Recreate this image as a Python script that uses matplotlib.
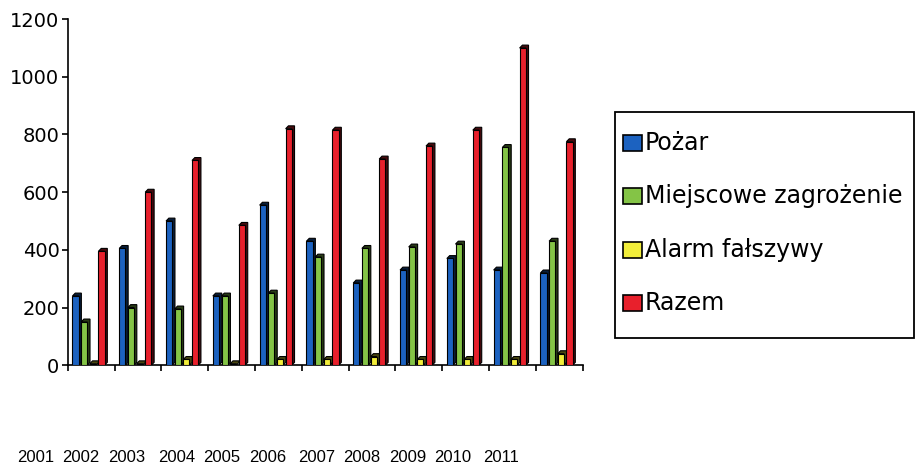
import numpy as np
import matplotlib
matplotlib.use('Agg')
import matplotlib.pyplot as plt
from matplotlib.patches import Polygon, Rectangle

plt.rcParams['font.family'] = ['Liberation Sans', 'DejaVu Sans']

# Dane
lata = ['2001', '2002', '2003', '2004', '2005', '2006',
        '2007', '2008', '2009', '2010', '2011']
pozar = [240, 405, 500, 240, 555, 430, 285, 330, 370, 330, 320]
miejscowe = [150, 200, 195, 240, 250, 375, 405, 410, 420, 755, 430]
alarm = [5, 5, 20, 5, 20, 20, 30, 20, 20, 20, 40]
razem = [395, 600, 710, 485, 820, 815, 715, 760, 815, 1100, 775]

serie = ['Pożar', 'Miejscowe zagrożenie', 'Alarm fałszywy', 'Razem']
kolory = ['#1c62c0', '#84c446', '#f2ee3a', '#e8202c']

# pozycje podpisow lat (piksele, tak jak w oryginale)
x_lat = [36, 81, 127, 177, 222, 268, 317, 362, 408, 453, 501]

W, H = 916, 467


def ciemniej(c, f=0.3):
    r, g, b = matplotlib.colors.to_rgb(c)
    return (r * f, g * f, b * f)


fig = plt.figure(figsize=(W / 100, H / 100), dpi=100)
ax = fig.add_axes([0.074, 0.218, 0.562, 0.741])

x = np.arange(len(lata))
w = 0.13
krok = 0.185
dx = 0.06
dy = 10

for k, dane in enumerate([pozar, miejscowe, alarm, razem]):
    x0 = x + 0.1 + k * krok
    for xi, h in zip(x0, dane):
        pts = [(xi, h), (xi + dx, h + dy), (xi + w + dx, h + dy),
               (xi + w + dx, dy), (xi + w, 0), (xi + w, h)]
        ax.add_patch(Polygon(pts, closed=True, facecolor=ciemniej(kolory[k]),
                             edgecolor='black', linewidth=0.8, zorder=2))
    ax.bar(x0, dane, width=w, align='edge', color=kolory[k],
           edgecolor='black', linewidth=0.8, zorder=3)

ax.set_xlim(0, len(lata))
ax.set_ylim(0, 1200)
ax.set_yticks(range(0, 1201, 200))
ax.set_xticks(range(0, len(lata) + 1))
ax.set_xticklabels([])
for t in ax.get_yticklabels():
    t.set_family(['DejaVu Sans'])
ax.tick_params(axis='y', labelsize=14, length=4, width=1.2, direction='out', pad=2)
ax.tick_params(axis='x', length=4, width=1.2, direction='out')
for s in ['top', 'right']:
    ax.spines[s].set_visible(False)
for s in ['left', 'bottom']:
    ax.spines[s].set_linewidth(1.2)

for rok, xp in zip(lata, x_lat):
    fig.text(xp / W, 1 - 458 / H, rok, fontsize=12, ha='center', va='center')

# legenda rysowana recznie
fig.patches.append(Rectangle((615 / W, 1 - 338 / H), 299 / W, 226 / H,
                             transform=fig.transFigure, facecolor='white',
                             edgecolor='black', linewidth=1.3))
wiersze = [143, 196, 250, 303]
for nazwa, c, yp in zip(serie, kolory, wiersze):
    fig.patches.append(Rectangle((623 / W, 1 - (yp + 8) / H), 19 / W, 16 / H,
                                 transform=fig.transFigure, facecolor=c,
                                 edgecolor='black', linewidth=1.2))
    fig.text(645 / W, 1 - yp / H, nazwa, fontsize=17, family=['DejaVu Sans'],
             ha='left', va='center')

fig.savefig('out.png', dpi=100)
